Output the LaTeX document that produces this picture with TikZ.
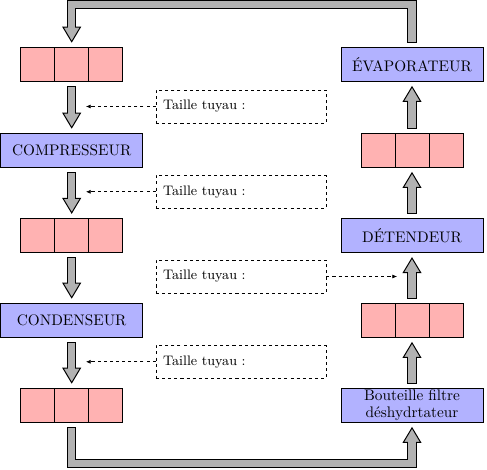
\documentclass[tikz,border=0pt]{standalone}
\usepackage{fontspec}
\usetikzlibrary{arrows.meta}
\tikzset{
  pipetip/.tip={Triangle[width=12.4pt, length=10.5pt, line width=0.65pt, color=black, fill=gray!60]},
}
\begin{document}
\begin{tikzpicture}[x=0.654pt, y=-0.654pt,
  cell/.style={draw, fill=red!30, minimum width=22.24pt, minimum height=22.24pt, inner sep=0pt},
  organ/.style={draw, fill=blue!30, minimum width=92.9pt, minimum height=22.24pt, inner sep=0pt, align=center},
  tagbox/.style={draw, dash pattern=on 2pt off 2pt, minimum height=21.6pt, text width=102pt, inner xsep=4.6pt, font=\small, align=left},
  pipe/.style={preaction={draw=black, line width=6.2pt, line join=miter, -pipetip, shorten >=2.8pt, shorten <=2.9pt},
    draw=gray!60, line width=4.9pt, line join=miter, shorten <=3.5pt, shorten >=11.8pt},
  hint/.style={draw, dash pattern=on 2pt off 2pt, -{Latex[length=3pt, width=2.6pt]}},
]
\useasboundingbox (0,0) rectangle (487,470);
\coordinate (top) at (0,4.75);
\coordinate (bot) at (0,463.3);
% left column
\node[cell] (p1l) at (37.7,64.3) {};
\node[cell] (p1) at (71.7,64.3) {};
\node[cell] (p1r) at (105.7,64.3) {};
\node[organ] (comp) at (71.7,150.3) {COMPRESSEUR};
\node[cell] (p2l) at (37.7,235.5) {};
\node[cell] (p2) at (71.7,235.5) {};
\node[cell] (p2r) at (105.7,235.5) {};
\node[organ] (cond) at (71.7,320.3) {CONDENSEUR};
\node[cell] (p3l) at (37.7,405.3) {};
\node[cell] (p3) at (71.7,405.3) {};
\node[cell] (p3r) at (105.7,405.3) {};
% right column
\node[organ] (evap) at (412,64.3) {ÉVAPORATEUR};
\node[cell] (q1l) at (378,150.3) {};
\node[cell] (q1) at (412,150.3) {};
\node[cell] (q1r) at (446,150.3) {};
\node[organ] (det) at (412,235.5) {DÉTENDEUR};
\node[cell] (q2l) at (378,320.3) {};
\node[cell] (q2) at (412,320.3) {};
\node[cell] (q2r) at (446,320.3) {};
\node[organ] (bout) at (412,405.3) {Bouteille filtre\\[-1pt]déshydrtateur};
% labels
\node[tagbox] (t1) at (241,106.5) {Taille tuyau :};
\node[tagbox] (t2) at (241,191.8) {Taille tuyau :};
\node[tagbox] (t3) at (241,276.5) {Taille tuyau :};
\node[tagbox] (t4) at (241,361.8) {Taille tuyau :};
\coordinate (h1) at (86,106.5);
\coordinate (h2) at (86,191.8);
\coordinate (h3) at (397,276.5);
\coordinate (h4) at (86,361.8);
% pipes
\draw[pipe] (evap.north) -- (evap.north |- top) -- (p1.north |- top) -- (p1.north);
\draw[pipe] (p1) -- (comp);
\draw[pipe] (comp) -- (p2);
\draw[pipe] (p2) -- (cond);
\draw[pipe] (cond) -- (p3);
\draw[pipe] (p3.south) -- (p3.south |- bot) -- (bout.south |- bot) -- (bout.south);
\draw[pipe] (bout) -- (q2);
\draw[pipe] (q2) -- (det);
\draw[pipe] (det) -- (q1);
\draw[pipe] (q1) -- (evap);
% hints
\draw[hint] (t1.west) -- (h1);
\draw[hint] (t2.west) -- (h2);
\draw[hint] (t3.east) -- (h3);
\draw[hint] (t4.west) -- (h4);
\end{tikzpicture}
\end{document}
